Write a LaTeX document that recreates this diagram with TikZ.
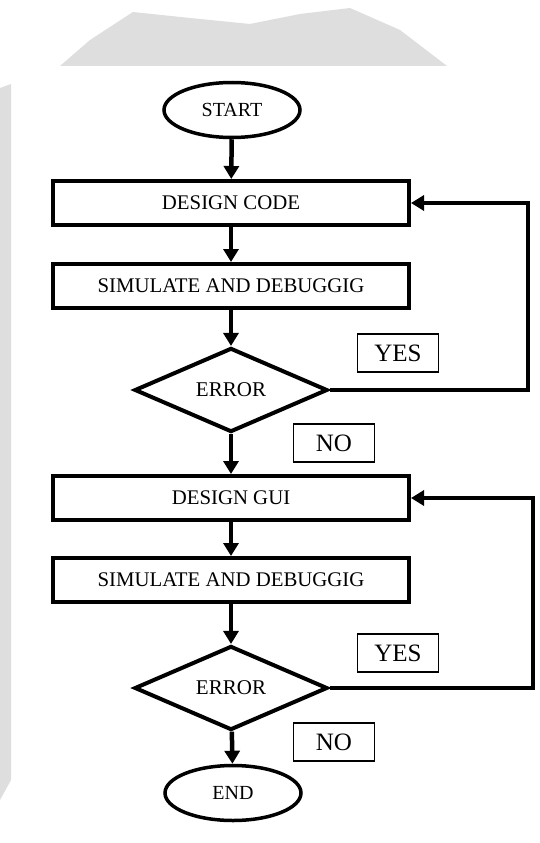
\documentclass[tikz,border=0pt]{standalone}
\usepackage{fontspec}
\setmainfont{Liberation Serif}
\usetikzlibrary{shapes.geometric}
\usetikzlibrary{arrows.meta}
\tikzset{
	boxstyle/.style={rectangle,draw=black,line width=4pt,minimum width=356pt,minimum height=44pt,inner sep=0pt,font=\fontsize{20.8}{24}\selectfont},
	ovalstyle/.style={ellipse,draw=black,line width=3.5pt,minimum width=136pt,minimum height=55pt,inner sep=0pt,font=\fontsize{20}{24}\selectfont},
	decisionstyle/.style={diamond,draw=black,line width=4pt,minimum width=193pt,minimum height=82pt,inner sep=0pt,font=\fontsize{21}{24}\selectfont},
	answerstyle/.style={rectangle,draw=black,line width=1.2pt,minimum width=81pt,minimum height=38pt,inner sep=0pt,font=\fontsize{25}{28}\selectfont},
	flowarrow/.style={line width=4.5pt,-{Triangle[width=15pt,length=13pt]}},
	shadestyle/.style={fill=black!13,draw=none}
}
\begin{document}
\begin{tikzpicture}[x=1pt,y=-1pt]
	\useasboundingbox[fill=white] (0,0) rectangle (540,843);
	% faint scan marks
	\fill[shadestyle] (60,66) -- (90,40) -- (133,12) -- (190,18) -- (250,24) -- (300,14) -- (350,8) -- (400,30) -- (447,66) -- cycle;
	\fill[shadestyle] (0,88) -- (11,84) -- (11,780) -- (0,800) -- cycle;
	\node[ovalstyle] (start) at (232,110) {START};
	\node[boxstyle] (code) at (231,203) {DESIGN CODE};
	\node[boxstyle] (sim1) at (231,286) {SIMULATE AND DEBUGGIG};
	\node[decisionstyle] (err1) at (231,390) {ERROR};
	\node[boxstyle] (gui) at (231,498) {DESIGN GUI};
	\node[boxstyle] (sim2) at (231,580) {SIMULATE AND DEBUGGIG};
	\node[decisionstyle] (err2) at (231,688) {ERROR};
	\node[ovalstyle] (finish) at (233,793) {END};
	\node[answerstyle] (yes1) at (398,353) {YES};
	\node[answerstyle] (no1) at (334,443) {NO\hspace{10pt}};
	\node[answerstyle] (yes2) at (398,653) {YES};
	\node[answerstyle] (no2) at (334,742) {NO\hspace{10pt}};
	\coordinate (back1) at (528,390);
	\coordinate (back2) at (533,688);
	\draw[flowarrow] (start) -- (code);
	\draw[flowarrow] (code) -- (sim1);
	\draw[flowarrow] (sim1) -- (err1);
	\draw[flowarrow] (err1) -- (gui);
	\draw[flowarrow] (gui) -- (sim2);
	\draw[flowarrow] (sim2) -- (err2);
	\draw[flowarrow] (err2) -- (finish);
	\draw[flowarrow] (err1.east) -- (back1) |- (code.east);
	\draw[flowarrow] (err2.east) -- (back2) |- (gui.east);
\end{tikzpicture}
\end{document}
